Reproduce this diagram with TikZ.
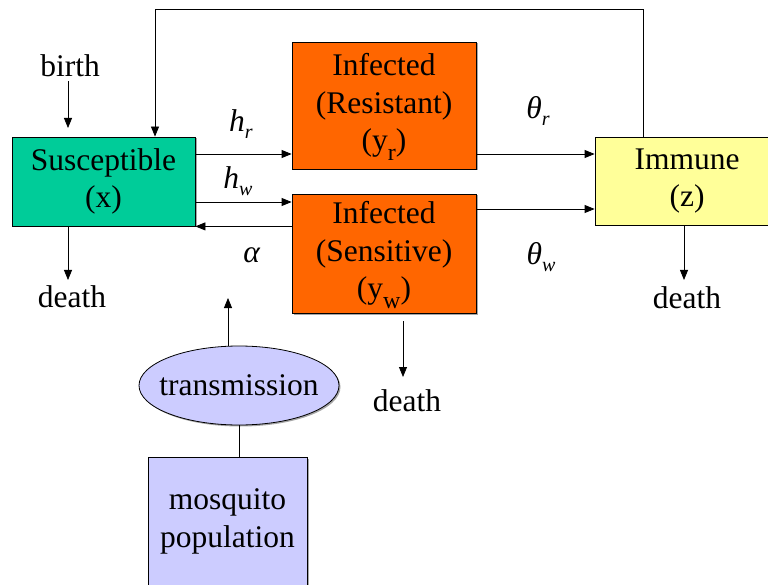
\documentclass[tikz,border=0pt]{standalone}
\usepackage{fontspec}
\setmainfont{Liberation Serif}
\usepackage{tikz}
\usetikzlibrary{arrows.meta,shapes,shadows}
\definecolor{sgreen}{HTML}{00CC99}
\definecolor{iorange}{HTML}{FF6600}
\definecolor{imyellow}{HTML}{FFFF99}
\definecolor{mlilac}{HTML}{CCCCFF}
\newcommand{\bigtxt}{\fontsize{31.5}{37.5}\selectfont}
\newcommand{\lsub}[1]{\raisebox{-0.3em}[0pt][0pt]{\fontsize{24}{24}\selectfont #1}}
\newcommand{\msub}[1]{\raisebox{-0.22em}[0pt][0pt]{\fontsize{20}{20}\selectfont\itshape #1}}

\begin{document}
\begin{tikzpicture}[x=1pt,y=-1pt,
  comp/.style={draw=black,line width=0.8pt,align=center,font=\bigtxt,inner sep=0pt,
    drop shadow={shadow xshift=1.5pt,shadow yshift=-1.5pt,fill=gray!70,opacity=1}},
  lbl/.style={font=\bigtxt,inner sep=4pt},
  arr/.style={-{Triangle[length=10pt,width=8pt]},line width=0.8pt}]
  \useasboundingbox (0,0) rectangle (768,585);
  \node[comp,fill=sgreen,minimum width=183pt,minimum height=89pt] (sus) at (103.5,181.5) {Susceptible\\(x)};
  \node[comp,fill=iorange,minimum width=184pt,minimum height=127pt] (res) at (384,105.5) {Infected\\(Resistant)\\(y\lsub{r})};
  \node[comp,fill=iorange,minimum width=184pt,minimum height=119pt] (sen) at (384,253.5) {Infected\\(Sensitive)\\(y\lsub{w})};
  \node[comp,fill=imyellow,minimum width=184pt,minimum height=88pt] (imm) at (687,181) {Immune\\(z)};
  \node[comp,ellipse,fill=mlilac,inner xsep=-9.5pt,minimum width=200pt,minimum height=79pt] (trans) at (239,385.5) {transmission};
  \node[comp,fill=mlilac,minimum width=159pt,minimum height=129pt] (mos) at (227.5,521.5) {mosquito\\population};

  \node[lbl] (birth) at (70,66) {birth};
  \node[lbl] (d1) at (72,297) {death};
  \node[lbl] (d2) at (407,401) {death};
  \node[lbl] (d3) at (687,298) {death};
  \node[lbl] (hr) at (241,121) {\textit{h}\msub{r}};
  \node[lbl] (hw) at (238,178) {\textit{h}\msub{w}};
  \node[lbl] (al) at (252,255) {\textit{α}};
  \node[lbl] (thr) at (538,108) {\textit{θ}\msub{r}};
  \node[lbl] (thw) at (541,254) {\textit{θ}\msub{w}};

  \coordinate (btip) at (68,128);
  \draw[arr] (birth.south -| btip) -- (btip);
  \coordinate (fbr) at (643,9);
  \coordinate (fbl) at (155,9);
  \draw[arr] (imm.north -| fbr) -- (fbr) -- (fbl) -- (sus.north -| fbl);

  \coordinate (lvr) at (0,154);
  \coordinate (lvw) at (0,202);
  \coordinate (lvt) at (0,209);
  \draw[arr] (sus.east |- lvr) -- (res.west |- lvr);
  \draw[arr] (sus.east |- lvw) -- (sen.west |- lvw);
  \draw[arr] (sen.west |- sus.south) -- (sus.south east);
  \draw[arr] (res.east |- lvr) -- (imm.west |- lvr);
  \draw[arr] (sen.east |- lvt) -- (imm.west |- lvt);

  \coordinate (d1tip) at (68,280);
  \draw[arr] (sus.south -| d1tip) -- (d1tip);
  \coordinate (d2tip) at (403,377);
  \draw[arr,shorten <=8pt] (sen.south -| d2tip) -- (d2tip);
  \coordinate (d3tip) at (684,280);
  \draw[arr] (imm.south -| d3tip) -- (d3tip);

  \coordinate (ttip) at (228,298);
  \draw[arr] (trans.north -| ttip) -- (ttip);
  \draw[line width=0.8pt] (trans.south) -- (trans.south |- mos.north);
\end{tikzpicture}
\end{document}
